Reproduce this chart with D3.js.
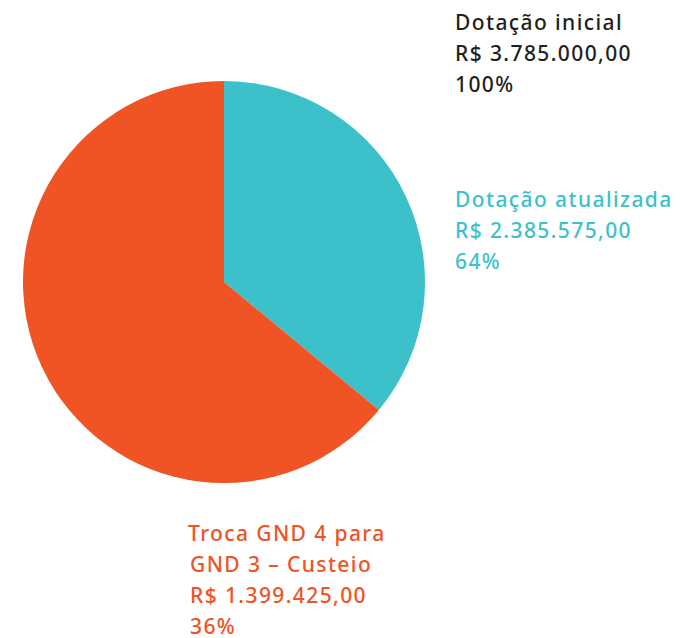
<!DOCTYPE html>
<html lang="pt">
<head>
<meta charset="UTF-8">
<title>Dotação</title>
<script src="https://cdn.jsdelivr.net/npm/d3@7"></script>
<style>
    body { margin: 0; background: #fff; }
    text { font-family: "Noto Sans", sans-serif; font-size: 21px; font-weight: 500; letter-spacing: 1.4px; }
</style>
</head>
<body>
<script>

    let w = 680, h = 638;

    // fatias, a partir do topo, sentido horário
    let sliceNames = ['Troca GND 4 para GND 3 – Custeio', 'Dotação atualizada'];
    let slicePercents = [36, 64];
    let sliceColors = ['#3cc1cb', '#f05324'];

    // rótulos
    let labelLines = [
        ['Dotação inicial', 'R$ 3.785.000,00', '100%'],
        ['Dotação atualizada', 'R$ 2.385.575,00', '64%'],
        ['Troca GND 4 para', 'GND 3 – Custeio', 'R$ 1.399.425,00', '36%']
    ];
    let labelColors = ['#231f20', '#3cc1cb', '#f05324'];
    let labelPos = [[455, 30], [455, 207], [188, 541]];
    let labelIndent = [0, 0, 2];

    let cx = 224, cy = 282, r = 201;

    let svg = d3.select('body')
        .append('svg')
        .attr('width', w)
        .attr('height', h);

    let pie = d3.pie().sort(null);
    let arc = d3.arc().innerRadius(0).outerRadius(r);

    svg.append('g')
        .attr('transform', 'translate(' + cx + ',' + cy + ')')
        .selectAll('path')
        .data(pie(slicePercents))
        .enter()
        .append('path')
        .attr('fill', (d, i) => sliceColors[i])
        .attr('d', arc);

    let labels = svg.selectAll('text.label')
        .data(labelLines)
        .enter()
        .append('text')
        .attr('class', 'label')
        .attr('fill', (d, i) => labelColors[i])
        .attr('x', (d, i) => labelPos[i][0])
        .attr('y', (d, i) => labelPos[i][1]);

    labels.selectAll('tspan')
        .data((d, i) => d.map((t, j) => ({ t: t, x: labelPos[i][0] + (j > 0 ? labelIndent[i] : 0) })))
        .enter()
        .append('tspan')
        .attr('x', d => d.x)
        .attr('dy', (d, j) => j === 0 ? 0 : 31)
        .text(d => d.t);

</script>
</body>
</html>
